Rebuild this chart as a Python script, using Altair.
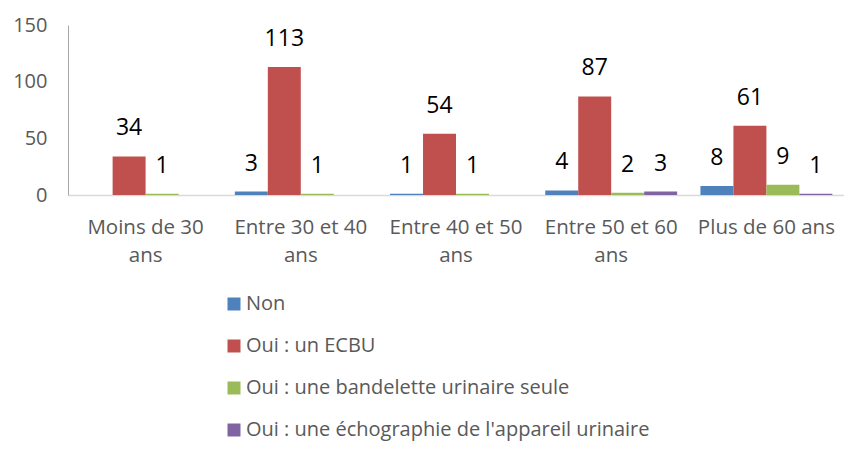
import altair as alt
import pandas as pd

categories = ["Moins de 30 ans", "Entre 30 et 40 ans", "Entre 40 et 50 ans",
              "Entre 50 et 60 ans", "Plus de 60 ans"]
series = ["Non", "Oui : un ECBU", "Oui : une bandelette urinaire seule",
          "Oui : une échographie de l'appareil urinaire"]
colors = ["#4F81BD", "#C0504D", "#9BBB59", "#8064A2"]

non = [None, 3, 1, 4, 8]
ecbu = [34, 113, 54, 87, 61]
bandelette = [1, 1, 1, 2, 9]
echographie = [None, None, None, 3, 1]

rows = []
for s, vals in zip(series, [non, ecbu, bandelette, echographie]):
    for c, v in zip(categories, vals):
        rows.append({"cat": c, "serie": s, "val": v})
df = pd.DataFrame(rows)

FONT = "Open Sans"

x = alt.X("cat:N", sort=categories, title=None,
          scale=alt.Scale(paddingInner=0.15, paddingOuter=0.075),
          axis=alt.Axis(labelAngle=0, labelFontSize=20.5, labelColor="#595959",
                        labelFont=FONT, ticks=False, domainColor="#D9D9D9",
                        domainWidth=1.5, labelPadding=22, labelLineHeight=28,
                        labelExpr="indexof(datum.label,'Plus')==0 ? datum.label : [replace(datum.label,' ans',''), 'ans']"))
xo = alt.XOffset("serie:N", sort=series, scale=alt.Scale(paddingInner=0, paddingOuter=0))

base = alt.Chart(df)

bars = base.mark_bar().encode(
    x=x, xOffset=xo,
    y=alt.Y("val:Q", title=None,
            scale=alt.Scale(domain=[0, 150], nice=False),
            axis=alt.Axis(values=[0, 50, 100, 150], grid=False, ticks=False,
                          labelFontSize=20, labelColor="#595959", labelFont=FONT,
                          domainColor="#A6A6A6", labelPadding=21)),
    color=alt.Color("serie:N", sort=series,
                    scale=alt.Scale(domain=series, range=colors),
                    legend=alt.Legend(title=None, orient="none", legendX=156, legendY=269,
                                      direction="vertical", symbolType="square",
                                      symbolSize=169, symbolStrokeWidth=0,
                                      labelFontSize=20, labelColor="#595959",
                                      labelFont=FONT, rowPadding=22, labelOffset=2,
                                      labelLimit=700)),
)

labels = base.mark_text(fontSize=23, font=FONT, color="#000000", dy=-28,
                        baseline="middle").encode(
    x=x, xOffset=xo,
    y=alt.Y("val:Q"),
    text=alt.Text("val:Q"),
).transform_filter("datum.val > 0")

chart = (bars + labels).properties(
    width=776, height=170,
    autosize=alt.AutoSizeParams(type="none"),
    padding={"left": 60, "top": 17, "right": 0, "bottom": 249},
).configure_view(stroke=None)

chart.save("out.html", embed_options={"renderer": "svg", "actions": False})
